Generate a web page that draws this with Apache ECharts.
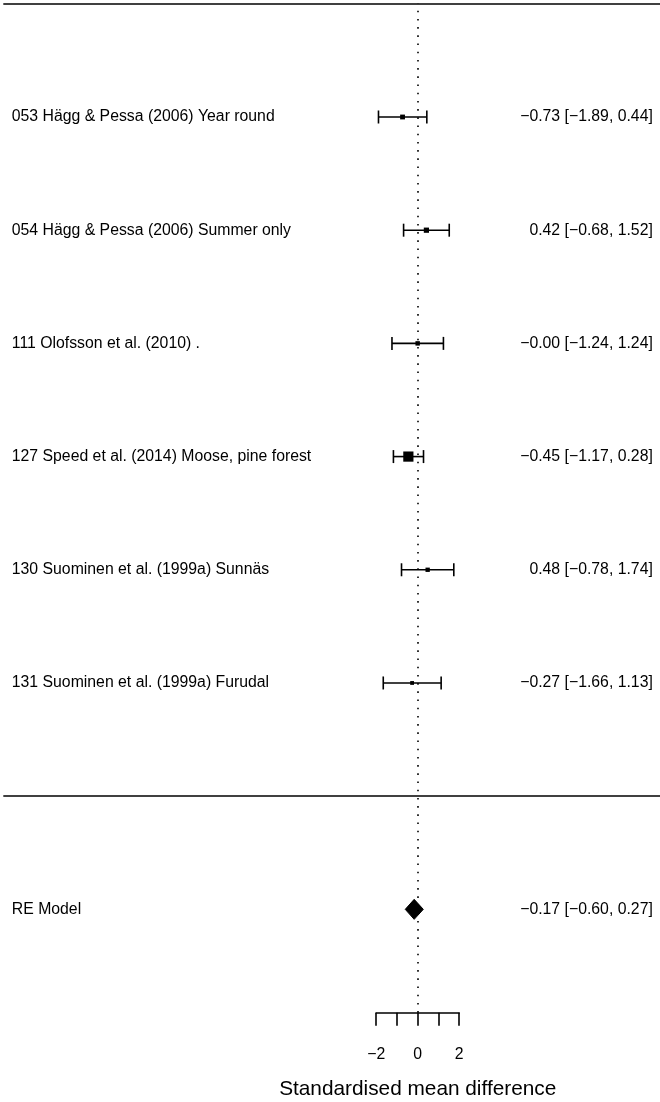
<!DOCTYPE html>
<html>
<head>
<meta charset="utf-8">
<script src="https://cdn.jsdelivr.net/npm/echarts@6/dist/echarts.min.js"></script>
<style>html,body{margin:0;padding:0;background:#fff}#c{width:660px;height:1102px}</style>
</head>
<body>
<div id="c"></div>
<script>
// ---- data ----
const studies = [
  "053 Hägg & Pessa (2006) Year round",
  "054 Hägg & Pessa (2006) Summer only",
  "111 Olofsson et al. (2010) .",
  "127 Speed et al. (2014) Moose, pine forest",
  "130 Suominen et al. (1999a) Sunnäs",
  "131 Suominen et al. (1999a) Furudal"
];
const estimates = [-0.73, 0.42, -0.002, -0.45, 0.48, -0.27];
const lowers    = [-1.89, -0.68, -1.24, -1.17, -0.78, -1.66];
const uppers    = [0.44, 1.52, 1.24, 0.28, 1.74, 1.13];
const weights   = [14.0, 15.7, 12.4, 36.2, 12.0, 9.8];
const rows      = [6, 5, 4, 3, 2, 1];
const modelLabel = "RE Model";
const modelEstimate = -0.17, modelLower = -0.60, modelUpper = 0.27, modelRow = -1;
const axisTicks = [-2, -1, 0, 1, 2];
const xTitle = "Standardised mean difference";

// ---- helpers ----
const FONT = "'Liberation Sans', Arial, Helvetica, sans-serif";
const LW = 1.6;
const fmt = v => v.toFixed(2).replace('-', '\u2212');
const ciText = (e, l, u) => fmt(e) + ' [' + fmt(l) + ', ' + fmt(u) + ']';
const wMin = Math.min(...weights), wMax = Math.max(...weights);

const studyData = studies.map((s, i) => [estimates[i], lowers[i], uppers[i], rows[i], weights[i]]);

function textEl(x, y, txt, align) {
  return { type: 'text', style: { text: txt, x: x, y: y, fill: '#000', fontSize: 15.8, fontFamily: FONT, align: align, verticalAlign: 'middle' } };
}

function renderStudy(params, api) {
  const est = api.value(0), lo = api.value(1), hi = api.value(2), row = api.value(3), w = api.value(4);
  const i = params.dataIndex;
  const pL = api.coord([lo, row]), pH = api.coord([hi, row]), pE = api.coord([est, row]);
  const cs = params.coordSys;
  const sz = 3.8 + (w - wMin) / (wMax - wMin) * 6.4;
  const ls = { stroke: '#000', lineWidth: LW };
  return { type: 'group', children: [
    { type: 'line', shape: { x1: pL[0], y1: pL[1], x2: pH[0], y2: pH[1] }, style: ls },
    { type: 'line', shape: { x1: pL[0], y1: pL[1] - 6.5, x2: pL[0], y2: pL[1] + 6.5 }, style: ls },
    { type: 'line', shape: { x1: pH[0], y1: pH[1] - 6.5, x2: pH[0], y2: pH[1] + 6.5 }, style: ls },
    { type: 'rect', shape: { x: pE[0] - sz / 2, y: pE[1] - sz / 2, width: sz, height: sz }, style: { fill: '#000' } },
    textEl(cs.x + 8.5, pE[1], studies[i], 'left'),
    textEl(cs.x + cs.width - 7.2, pE[1], ciText(estimates[i], lowers[i], uppers[i]), 'right')
  ]};
}

function renderModel(params, api) {
  const est = api.value(0), lo = api.value(1), hi = api.value(2), row = api.value(3);
  const pL = api.coord([lo, row]), pH = api.coord([hi, row]), pE = api.coord([est, row]);
  const cs = params.coordSys;
  return { type: 'group', children: [
    { type: 'polygon', shape: { points: [[pL[0], pL[1]], [pE[0], pE[1] - 10], [pH[0], pH[1]], [pE[0], pE[1] + 10]] }, style: { fill: '#000', stroke: '#000', lineWidth: 1 } },
    textEl(cs.x + 8.5, pE[1], modelLabel, 'left'),
    textEl(cs.x + cs.width - 7.2, pE[1], ciText(modelEstimate, modelLower, modelUpper), 'right')
  ]};
}

const chart = echarts.init(document.getElementById('c'), null, { renderer: 'canvas' });
const pxPerUnit = 20.75, zeroPx = 417.7, gridLeft = 3.3;
chart.setOption({
  animation: false,
  backgroundColor: '#fff',
  grid: [
    { left: gridLeft, right: 0, top: 3.8, bottom: 1102 - 1012.7 },
    { left: zeroPx - 2 * pxPerUnit, width: 4 * pxPerUnit, top: 1000, bottom: 1102 - 1012.7 }
  ],
  xAxis: [
    { type: 'value', gridIndex: 0, min: -(zeroPx - gridLeft) / pxPerUnit, max: (660 - zeroPx) / pxPerUnit, show: false },
    { type: 'value', gridIndex: 1, min: axisTicks[0], max: axisTicks[axisTicks.length - 1], interval: 1,
      axisLine: { show: true, onZero: false, lineStyle: { color: '#000', width: LW } },
      axisTick: { show: true, length: 13, lineStyle: { color: '#000', width: LW } },
      axisLabel: { margin: 34, color: '#000', fontSize: 15.8, fontFamily: FONT,
        formatter: v => (v % 2 === 0 ? String(v).replace('-', '\u2212') : '') },
      splitLine: { show: false },
      name: xTitle, nameLocation: 'middle', nameGap: 66,
      nameTextStyle: { color: '#000', fontSize: 20.8, fontFamily: FONT } }
  ],
  yAxis: [
    { type: 'value', gridIndex: 0, min: -1.913, max: 7, show: false },
    { type: 'value', gridIndex: 1, show: false }
  ],
  series: [
    { type: 'custom', xAxisIndex: 0, yAxisIndex: 0, renderItem: renderStudy, data: studyData, silent: true, z: 3,
      markLine: { silent: true, symbol: 'none', label: { show: false }, animation: false,
        data: [
          { yAxis: 7, lineStyle: { color: '#000', width: LW, type: 'solid' } },
          { yAxis: 0, lineStyle: { color: '#000', width: LW, type: 'solid' } },
          { xAxis: 0, lineStyle: { color: '#000', width: 1.6, type: [1.6, 6.6] } }
        ] } },
    { type: 'custom', xAxisIndex: 0, yAxisIndex: 0, renderItem: renderModel,
      data: [[modelEstimate, modelLower, modelUpper, modelRow]], silent: true, z: 3 }
  ]
});
</script>
</body>
</html>
